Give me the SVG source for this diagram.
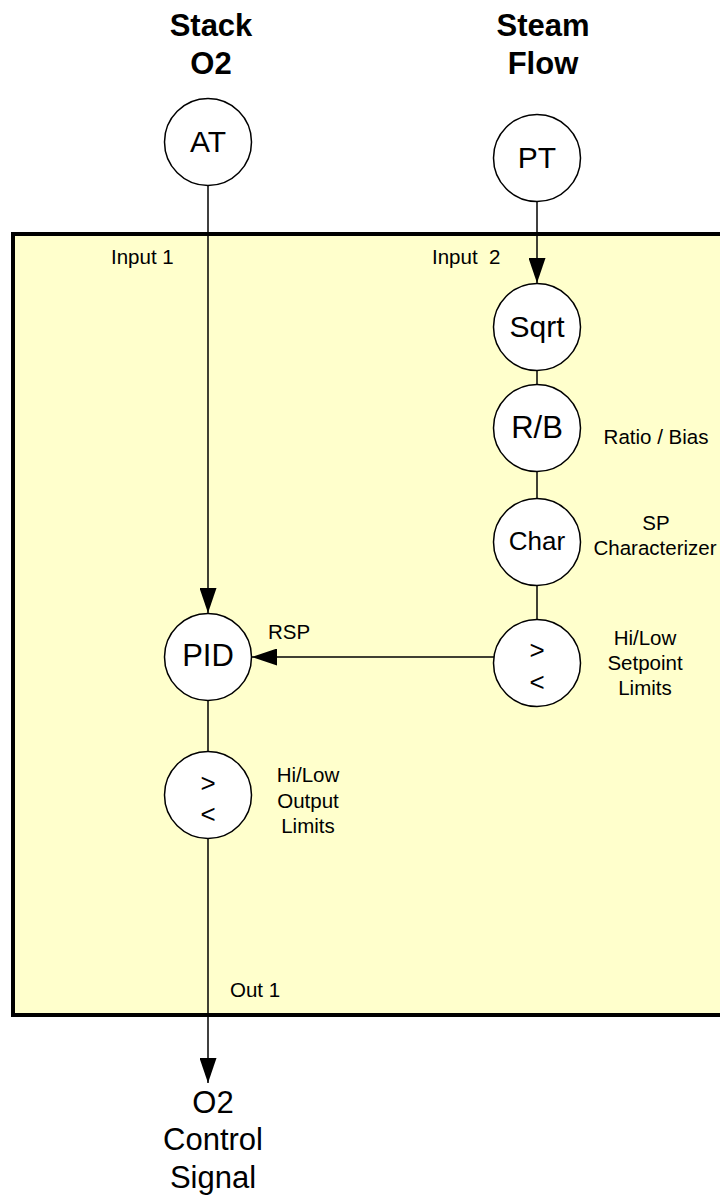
<svg xmlns="http://www.w3.org/2000/svg" width="720" height="1197" viewBox="0 0 720 1197">
<defs>
<style>
text{font-family:"Liberation Sans",Arial,sans-serif;fill:#000}
.title{font-size:31px;font-weight:bold;text-anchor:middle}
.big{font-size:31px;text-anchor:middle}
.node{fill:#fff;stroke:#000;stroke-width:1.5}
.lbl{font-size:20.5px;text-anchor:middle}
.sm{font-size:20.5px}
.cmp{font-size:26px;text-anchor:middle}
.wire{stroke:#000;stroke-width:1.5;fill:none}
</style>
<marker id="arrL" viewBox="0 0 10 10" refX="10" refY="5" markerWidth="25" markerHeight="17" markerUnits="userSpaceOnUse" orient="auto" preserveAspectRatio="none">
<path d="M0,0 L10,5 L0,10 z" fill="#000"/>
</marker>
</defs>
<rect id="controller" x="13" y="234" width="720" height="781" fill="#FFFFCC" stroke="#000" stroke-width="4"/>
<g id="labels">
<text class="title" x="211" y="36">Stack</text>
<text class="title" x="211" y="74">O2</text>
<text class="title" x="543" y="36">Steam</text>
<text class="title" x="543" y="74">Flow</text>
<text class="sm" x="111" y="264">Input 1</text>
<text class="sm" x="432" y="264">Input&#160; 2</text>
<text class="lbl" x="656" y="444">Ratio / Bias</text>
<text class="lbl" x="656" y="530">SP</text>
<text class="lbl" x="655" y="555">Characterizer</text>
<text class="lbl" x="645" y="645">Hi/Low</text>
<text class="lbl" x="645" y="670">Setpoint</text>
<text class="lbl" x="645" y="695">Limits</text>
<text class="sm" x="268" y="639">RSP</text>
<text class="lbl" x="308" y="782">Hi/Low</text>
<text class="lbl" x="308" y="808">Output</text>
<text class="lbl" x="308" y="833">Limits</text>
<text class="sm" x="230" y="997">Out 1</text>
<text class="big" x="213" y="1113">O2</text>
<text class="big" x="213" y="1150">Control</text>
<text class="big" x="213" y="1188">Signal</text>
</g>
<g id="connectors">
<line class="wire" x1="208" y1="186" x2="208" y2="613" marker-end="url(#arrL)"/>
<line class="wire" x1="537" y1="202" x2="537" y2="283" marker-end="url(#arrL)"/>
<line class="wire" x1="537" y1="370" x2="537" y2="385"/>
<line class="wire" x1="537" y1="471" x2="537" y2="499"/>
<line class="wire" x1="537" y1="585" x2="537" y2="619"/>
<line class="wire" x1="494" y1="657" x2="252" y2="657" marker-end="url(#arrL)"/>
<line class="wire" x1="208" y1="700" x2="208" y2="752"/>
<line class="wire" x1="208" y1="838" x2="208" y2="1083" marker-end="url(#arrL)"/>
</g>
<g id="AT"><circle class="node" cx="208" cy="142" r="43.5"/><text class="big" x="208" y="152" style="font-size:30px">AT</text></g>
<g id="PT"><circle class="node" cx="537" cy="158" r="43.5"/><text class="big" x="537" y="168" style="font-size:30px">PT</text></g>
<g id="Sqrt"><circle class="node" cx="537" cy="327" r="43.5"/><text class="big" x="537" y="337" style="font-size:30px">Sqrt</text></g>
<g id="RB"><circle class="node" cx="537" cy="428" r="43.5"/><text class="big" x="537" y="438">R/B</text></g>
<g id="Char"><circle class="node" cx="537" cy="542" r="43.5"/><text class="big" x="537" y="550" style="font-size:26px">Char</text></g>
<g id="SPLimits"><circle class="node" cx="537" cy="663" r="43.5"/><text class="cmp" x="537" y="659">&gt;</text><text class="cmp" x="537" y="691">&lt;</text></g>
<g id="PID"><circle class="node" cx="208" cy="657" r="43.5"/><text class="big" x="208" y="666">PID</text></g>
<g id="OutLimits"><circle class="node" cx="208" cy="795" r="43.5"/><text class="cmp" x="208" y="792">&gt;</text><text class="cmp" x="208" y="823">&lt;</text></g>
</svg>
